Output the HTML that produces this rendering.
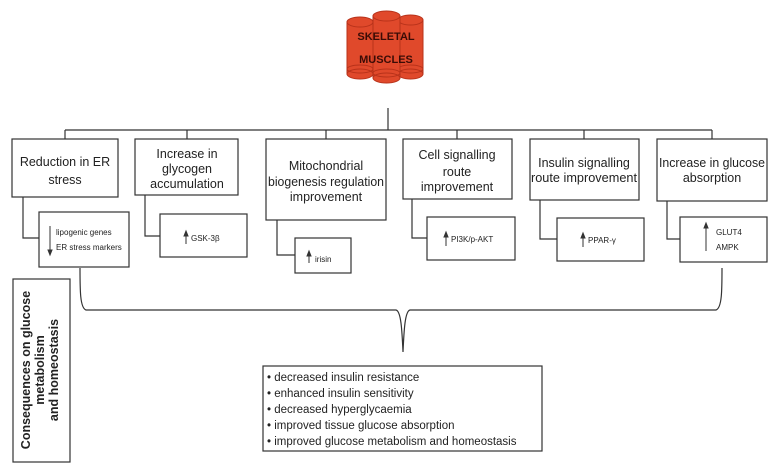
<!DOCTYPE html>
<html><head><meta charset="utf-8"><style>
html,body{margin:0;padding:0;background:#fff;}
svg{display:block;font-family:"Liberation Sans",sans-serif;}
</style></head><body>
<svg width="779" height="473" viewBox="0 0 779 473" xmlns="http://www.w3.org/2000/svg">
<g fill="#e0492b" stroke="#b8321a" stroke-width="1">
 <rect x="347" y="22" width="26" height="52"/><ellipse cx="360" cy="22" rx="13" ry="5"/><ellipse cx="360" cy="74" rx="13" ry="5"/><ellipse cx="360" cy="69" rx="13" ry="4" fill="none"/>
 <rect x="398" y="20" width="25" height="54"/><ellipse cx="410.5" cy="20" rx="12.5" ry="5"/><ellipse cx="410.5" cy="74" rx="12.5" ry="5"/><ellipse cx="410.5" cy="69" rx="12.5" ry="4" fill="none"/>
 <rect x="373" y="16" width="27" height="62"/><ellipse cx="386.5" cy="16" rx="13.5" ry="5"/><ellipse cx="386.5" cy="78" rx="13.5" ry="5"/><ellipse cx="386.5" cy="73" rx="13.5" ry="4" fill="none"/>
</g>
<text x="386" y="40" font-size="11" font-weight="bold" text-anchor="middle" fill="#3a0c06">SKELETAL</text>
<text x="386" y="63" font-size="11" font-weight="bold" text-anchor="middle" fill="#3a0c06">MUSCLES</text>
<g stroke="#333" stroke-width="1.2" fill="none">
 <line x1="388" y1="108" x2="388" y2="130"/>
 <line x1="65" y1="130" x2="712" y2="130"/>
 <line x1="65" y1="130" x2="65" y2="139"/><line x1="187" y1="130" x2="187" y2="139"/><line x1="326" y1="130" x2="326" y2="139"/>
 <line x1="457" y1="130" x2="457" y2="139"/><line x1="584" y1="130" x2="584" y2="139"/><line x1="712" y1="130" x2="712" y2="139"/>
 <rect x="12" y="139" width="106" height="58"/>
 <rect x="135" y="139" width="103" height="56"/>
 <rect x="266" y="139" width="120" height="81"/>
 <rect x="403" y="139" width="109" height="60"/>
 <rect x="530" y="139" width="109" height="61"/>
 <rect x="657" y="139" width="110" height="62"/>
 <polyline points="23,197 23,238 39,238"/><rect x="39" y="212" width="90" height="55"/>
 <polyline points="145,195 145,236 160,236"/><rect x="160" y="214" width="87" height="43"/>
 <polyline points="277,220 277,255 295,255"/><rect x="295" y="238" width="56" height="35"/>
 <polyline points="412,199 412,238 427,238"/><rect x="427" y="217" width="88" height="43"/>
 <polyline points="540,200 540,239 557,239"/><rect x="557" y="218" width="87" height="43"/>
 <polyline points="667,201 667,239 680,239"/><rect x="680" y="217" width="87" height="45"/>
 <path d="M80,268 C80,290 80,308 86,310 L396,310 C401,311 402,330 403,352 C404,330 405,311 410,310 L716,310 C722,308 722,290 722,268"/>
 <rect x="263" y="366" width="279" height="85"/>
 <rect x="13" y="279" width="57" height="183"/>
</g>
<g stroke="#333" stroke-width="1" fill="#333">
 <line x1="50" y1="226" x2="50" y2="252"/><path d="M48,250 L50,255 L52,250Z"/>
 <line x1="186" y1="234" x2="186" y2="244"/><path d="M184,236 L186,231 L188,236Z"/>
 <line x1="309" y1="254" x2="309" y2="263"/><path d="M307,256 L309,251 L311,256Z"/>
 <line x1="446" y1="235" x2="446" y2="246"/><path d="M444,237 L446,232 L448,237Z"/>
 <line x1="583" y1="236" x2="583" y2="247"/><path d="M581,238 L583,233 L585,238Z"/>
 <line x1="706" y1="226" x2="706" y2="251"/><path d="M704,228 L706,223 L708,228Z"/>
</g>
<g font-size="12.5" fill="#222" text-anchor="middle">
 <text x="65" y="166">Reduction in ER</text><text x="65" y="184">stress</text>
 <text x="187" y="158">Increase in</text><text x="187" y="173">glycogen</text><text x="187" y="188">accumulation</text>
 <text x="326" y="170">Mitochondrial</text><text x="326" y="186" textLength="116" lengthAdjust="spacingAndGlyphs">biogenesis regulation</text><text x="326" y="201">improvement</text>
 <text x="457" y="159">Cell signalling</text><text x="457" y="176">route</text><text x="457" y="191">improvement</text>
 <text x="584" y="167">Insulin signalling</text><text x="584" y="182" textLength="106" lengthAdjust="spacingAndGlyphs">route improvement</text>
 <text x="712" y="167" textLength="106" lengthAdjust="spacingAndGlyphs">Increase in glucose</text><text x="712" y="182">absorption</text>
</g>
<g font-size="8" fill="#222">
 <text x="56" y="235">lipogenic genes</text><text x="56" y="250">ER stress markers</text>
 <text x="191" y="241">GSK-3β</text>
 <text x="315" y="262">irisin</text>
 <text x="451" y="242">PI3K/p-AKT</text>
 <text x="588" y="243">PPAR-γ</text>
 <text x="716" y="235">GLUT4</text><text x="716" y="250">AMPK</text>
</g>
<g font-size="11.5" fill="#222">
 <text x="267" y="381">• decreased insulin resistance</text>
 <text x="267" y="397">• enhanced insulin sensitivity</text>
 <text x="267" y="413">• decreased hyperglycaemia</text>
 <text x="267" y="429">• improved tissue glucose absorption</text>
 <text x="267" y="445">• improved glucose metabolism and homeostasis</text>
</g>
<g transform="translate(41,370) rotate(-90)" font-size="12.5" font-weight="bold" fill="#222" text-anchor="middle">
 <text x="0" y="-11">Consequences on glucose</text>
 <text x="0" y="3">metabolism</text>
 <text x="0" y="17">and homeostasis</text>
</g>
</svg>
</body></html>
